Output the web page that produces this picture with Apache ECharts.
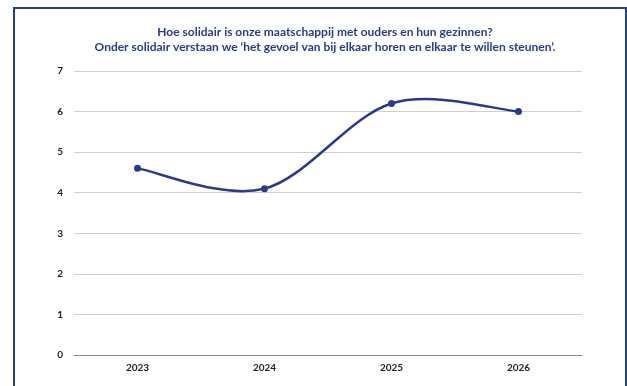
<!DOCTYPE html>
<html>
<head>
<meta charset="utf-8">
<script src="https://cdn.jsdelivr.net/npm/echarts@6/dist/echarts.min.js"></script>
<style>
  html, body { margin: 0; padding: 0; background: #fff; overflow: hidden; }
  #frame { position: absolute; left: 13px; top: 7px; width: 614px; height: 420px; border: 2px solid #2b3f8f; box-sizing: border-box; }
  #chart { position: absolute; left: 0; top: 0; width: 627px; height: 386px; }
</style>
</head>
<body>
<div id="frame"></div>
<div id="chart"></div>
<script>
const years = ['2023', '2024', '2025', '2026'];
const solidarity = [4.6, 4.1, 6.2, 6.0];
const yTicks = { min: 0, max: 7, interval: 1 };
const titleLines = [
  'Hoe solidair is onze maatschappij met ouders en hun gezinnen?',
  "Onder solidair verstaan we \u2018het gevoel van bij elkaar horen en elkaar te willen steunen\u2019."
];

const navy = '#283b8e';

// Cardinal-spline curve through all points, built from axis coordinates.
function renderCurve(params, api) {
  if (params.dataIndex !== 0) return null;
  const pts = solidarity.map((v, i) => api.coord([i, v]));
  const n = pts.length;
  const k = 1 / 6;
  const path = ['M' + pts[0][0] + ' ' + pts[0][1]];
  for (let i = 0; i < n - 1; i++) {
    const p0 = pts[Math.max(i - 1, 0)];
    const p1 = pts[i];
    const p2 = pts[i + 1];
    const p3 = pts[Math.min(i + 2, n - 1)];
    const c1 = [p1[0] + (p2[0] - p0[0]) * k, p1[1] + (p2[1] - p0[1]) * k];
    const c2 = [p2[0] - (p3[0] - p1[0]) * k, p2[1] - (p3[1] - p1[1]) * k];
    path.push('C' + c1[0] + ' ' + c1[1] + ' ' + c2[0] + ' ' + c2[1] + ' ' + p2[0] + ' ' + p2[1]);
  }
  return {
    type: 'path',
    shape: { pathData: path.join(' ') },
    style: { fill: null, stroke: navy, lineWidth: 2.5 }
  };
}

const chart = echarts.init(document.getElementById('chart'));
chart.setOption({
  animation: false,
  title: {
    text: titleLines.join('\n'),
    left: 320,
    textAlign: 'center',
    top: 20,
    textStyle: { color: navy, fontFamily: 'Lato', fontWeight: 'bold', fontSize: 12, lineHeight: 15 }
  },
  grid: { left: 74, right: 45, top: 71, bottom: 31 },
  xAxis: {
    type: 'category',
    data: years,
    boundaryGap: true,
    axisLine: { lineStyle: { color: '#8a8a8a', width: 1 } },
    axisTick: { show: false },
    axisLabel: { color: '#222', fontFamily: 'Lato', fontWeight: 'bold', fontSize: 10, margin: 8 }
  },
  yAxis: {
    type: 'value',
    min: yTicks.min,
    max: yTicks.max,
    interval: yTicks.interval,
    axisLine: { show: false },
    axisTick: { show: false },
    splitLine: { lineStyle: { color: '#d0d0d0', width: 1 } },
    axisLabel: { color: '#222', fontFamily: 'Lato', fontWeight: 'bold', fontSize: 10, margin: 11 }
  },
  series: [
    {
      type: 'custom',
      data: solidarity.map((v, i) => [i, v]),
      renderItem: renderCurve,
      silent: true,
      z: 2
    },
    {
      type: 'line',
      data: solidarity,
      symbol: 'circle',
      symbolSize: 7,
      lineStyle: { opacity: 0 },
      itemStyle: { color: navy },
      z: 3
    }
  ]
});
</script>
</body>
</html>
